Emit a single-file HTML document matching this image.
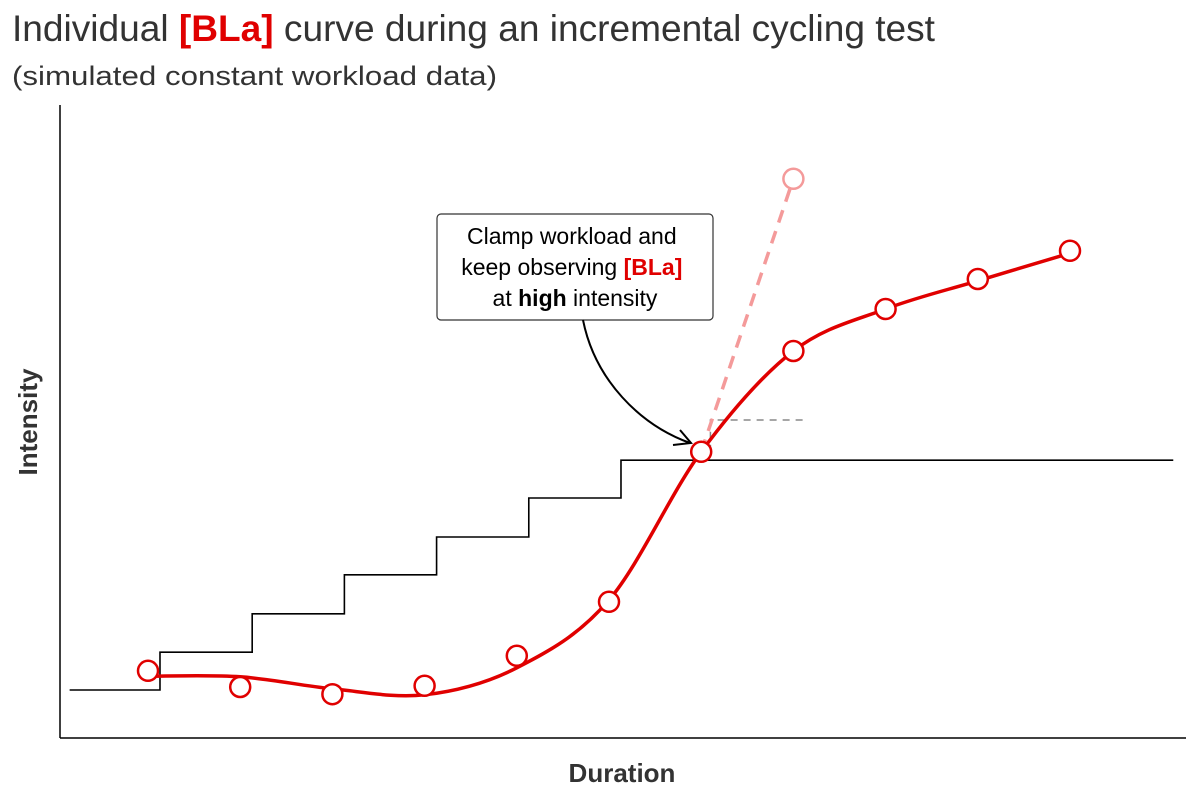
<!DOCTYPE html>
<html><head><meta charset="utf-8"><style>
html,body{margin:0;padding:0;background:#fff;}
svg{display:block;font-family:"Liberation Sans",sans-serif;}
</style></head><body>
<svg id="chart" width="1200" height="801" viewBox="0 0 1200 801">
<text x="12" y="41" font-size="37" fill="#333" textLength="923" lengthAdjust="spacingAndGlyphs">Individual <tspan fill="#e00000" font-weight="bold">[BLa]</tspan> curve during an incremental cycling test</text>
<text x="12" y="85" font-size="27" fill="#333" textLength="485" lengthAdjust="spacingAndGlyphs">(simulated constant workload data)</text>
<line x1="60" y1="105" x2="60" y2="738" stroke="#000" stroke-width="1.5"/>
<line x1="60" y1="738" x2="1186" y2="738" stroke="#000" stroke-width="1.5"/>
<text transform="translate(37,422) rotate(-90)" text-anchor="middle" font-size="26" font-weight="bold" fill="#333">Intensity</text>
<text x="622" y="782" text-anchor="middle" font-size="26" font-weight="bold" fill="#333">Duration</text>
<g id="marks"></g>
<g>
<rect x="437" y="214" width="276" height="106" rx="4" fill="#fff" stroke="#333" stroke-width="1.2"/>
<text text-anchor="middle" font-size="23" fill="#000">
<tspan x="575" y="244">Clamp workload and</tspan>
<tspan x="575" y="275">keep observing <tspan fill="#e00000" font-weight="bold">[BLa]</tspan></tspan>
<tspan x="575" y="306">at <tspan font-weight="bold">high</tspan> intensity</tspan></text>
<path d="M583,320 C595,380 640,425 690,443" fill="none" stroke="#000" stroke-width="2"/>
<path d="M673,445 L691,443 L680,430" fill="none" stroke="#000" stroke-width="2"/>
</g>
</svg>
<script>
const stages=[1,2,3,4,5,6,7,8,9,10,11];
const blaObserved=[11.2,8.5,7.3,8.7,13.7,22.7,47.7,64.5,71.5,76.5,81.2];
const blaFitted=[10.3,10.2,8.2,7.2,11.7,23.0,47.7,64.5,71.5,76.2,80.8];
const stepStarts=[0.15,1.13,2.13,3.13,4.13,5.13,6.13];
const stepLevels=[8,14.3,20.7,27.2,33.5,40,46.3];
const stepEnd=12.12;
const extrapStage=[7,8];
const extrapValue=[47.7,93.2];
const clampLevel=53;
const clampStages=[7.1,8.13];

const xs=t=>148+(t-1)*92.2;
const ys=v=>738-v*6;
const ns='http://www.w3.org/2000/svg';
const g=document.getElementById('marks');
function mk(tag,attrs){const e=document.createElementNS(ns,tag);for(const k in attrs)e.setAttribute(k,attrs[k]);g.appendChild(e);return e;}

let d='';
for(let i=0;i<stepStarts.length;i++){
  const x0=xs(stepStarts[i]),y=ys(stepLevels[i]);
  const x1=i<stepStarts.length-1?xs(stepStarts[i+1]):xs(stepEnd);
  d+=(i===0?'M':'L')+x0+','+y+' L'+x1+','+y+' ';
}
const stair=mk('path',{d:d,fill:'none',stroke:'#000','stroke-width':1.6});



const cx0=xs(clampStages[0]);
const gd=mk('path',{d:'M'+cx0+','+ys(blaObserved[6])+' L'+cx0+','+ys(clampLevel)+' L'+xs(clampStages[1])+','+ys(clampLevel),fill:'none',stroke:'#888','stroke-width':1.5,'stroke-dasharray':'7,6'});



const ex=mk('line',{x1:xs(extrapStage[0]),y1:ys(extrapValue[0]),x2:xs(extrapStage[1]),y2:ys(extrapValue[1]),stroke:'#f49a9a','stroke-width':3.5,'stroke-dasharray':'13,9'});


const ep=mk('circle',{cx:xs(extrapStage[1]),cy:ys(extrapValue[1]),r:10,fill:'#fff',stroke:'#f49a9a','stroke-width':2.5});



const P=stages.map((s,i)=>[xs(s),ys(blaFitted[i])]);
let c='M'+P[0][0]+','+P[0][1];
for(let i=0;i<P.length-1;i++){
  const p0=P[Math.max(0,i-1)],p1=P[i],p2=P[i+1],p3=P[Math.min(P.length-1,i+2)];
  c+=' C'+(p1[0]+(p2[0]-p0[0])/6)+','+(p1[1]+(p2[1]-p0[1])/6)+' '+(p2[0]-(p3[0]-p1[0])/6)+','+(p2[1]-(p3[1]-p1[1])/6)+' '+p2[0]+','+p2[1];
}
const curve=mk('path',{d:c,fill:'none',stroke:'#e00000','stroke-width':3.5});



stages.forEach((s,i)=>{
  const p=mk('circle',{cx:xs(s),cy:ys(blaObserved[i]),r:10,fill:'#fff',stroke:'#e00000','stroke-width':2.5});
  
  
});
</script>
</body></html>
